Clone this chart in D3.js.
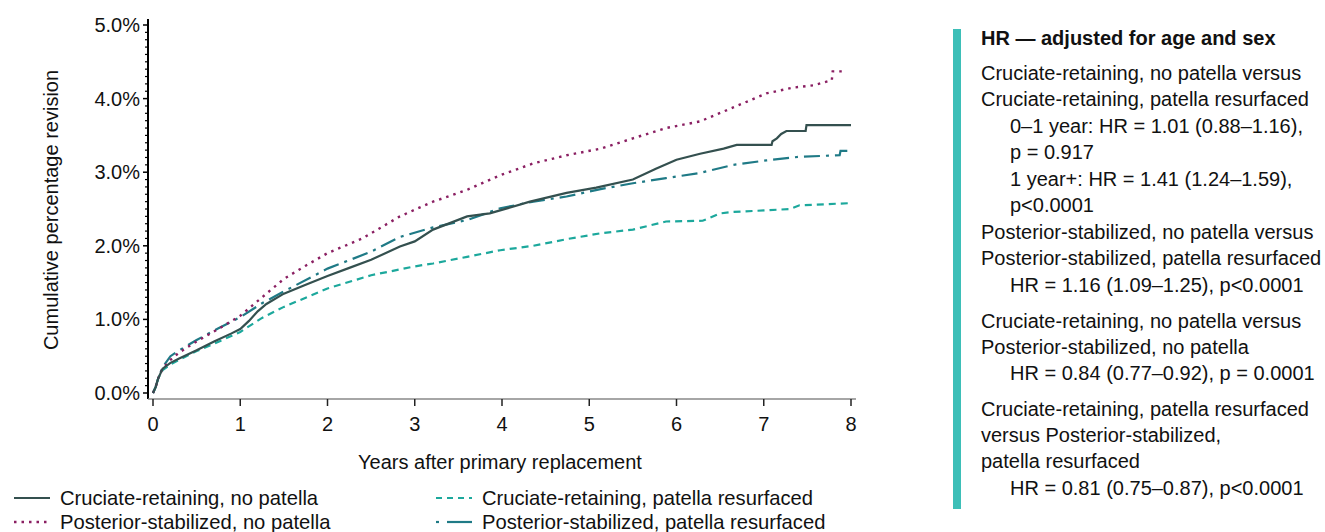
<!DOCTYPE html>
<html><head><meta charset="utf-8">
<script src="https://cdn.jsdelivr.net/npm/d3@7"></script>
<style>
body{margin:0;background:#fff;}
svg{font-family:"Liberation Sans",Arial,sans-serif;}
</style></head>
<body><svg id="c" width="1325" height="532"></svg>
<script>
const seriesNames = ["Cruciate-retaining, no patella","Cruciate-retaining, patella resurfaced","Posterior-stabilized, no patella","Posterior-stabilized, patella resurfaced"];
const crNoPatT = [0,0.03,0.06,0.11,0.2,0.3,0.5,0.7,0.9,1.0,1.1,1.2,1.3,1.5,1.75,2.0,2.25,2.5,2.83,3.0,3.21,3.6,3.86,4.32,4.74,5.08,5.5,5.77,6.0,6.27,6.54,6.69,7.09,7.1,7.15,7.2,7.26,7.48,7.49,8.0];
const crNoPatV = [0,0.08,0.2,0.33,0.41,0.47,0.58,0.70,0.81,0.87,0.98,1.11,1.21,1.35,1.47,1.59,1.70,1.81,1.99,2.06,2.22,2.40,2.44,2.60,2.72,2.79,2.90,3.05,3.17,3.25,3.32,3.37,3.37,3.42,3.46,3.52,3.56,3.56,3.64,3.64];
const crResT = [0,0.03,0.06,0.11,0.2,0.3,0.5,0.7,1.0,1.25,1.5,2.0,2.5,3.0,3.21,3.6,3.98,4.36,4.74,5.13,5.5,5.88,6.3,6.5,6.65,7.0,7.3,7.41,8.0];
const crResV = [0,0.08,0.2,0.31,0.39,0.45,0.57,0.67,0.83,1.02,1.17,1.42,1.60,1.72,1.76,1.85,1.94,2.00,2.09,2.17,2.22,2.33,2.34,2.44,2.46,2.48,2.50,2.55,2.58];
const psNoPatT = [0,0.03,0.06,0.11,0.2,0.3,0.5,0.75,1.0,1.25,1.5,1.75,2.0,2.4,2.83,3.21,3.6,3.98,4.36,4.74,5.13,5.5,5.88,6.27,6.65,7.03,7.34,7.57,7.78,7.79,7.94];
const psNoPatV = [0,0.08,0.2,0.33,0.45,0.55,0.70,0.87,1.05,1.30,1.55,1.73,1.90,2.10,2.40,2.60,2.76,2.96,3.12,3.23,3.32,3.46,3.60,3.69,3.88,4.07,4.15,4.18,4.25,4.37,4.37];
const psResT = [0,0.03,0.06,0.11,0.2,0.3,0.5,0.75,1.0,1.25,1.5,2.0,2.5,2.83,3.21,3.6,3.98,4.36,4.74,5.13,5.5,5.88,6.27,6.65,7.03,7.41,7.87,7.88,8.0];
const psResV = [0,0.08,0.2,0.35,0.50,0.58,0.72,0.88,1.03,1.22,1.38,1.69,1.92,2.12,2.25,2.35,2.51,2.60,2.67,2.77,2.85,2.92,2.99,3.10,3.16,3.21,3.23,3.29,3.29];
const xTicks = [0,1,2,3,4,5,6,7,8];
const yTicks = [0,1,2,3,4,5];
const hrLines = [
 {t:"HR — adjusted for age and sex", b:true, ind:0},
 {t:"Cruciate-retaining, no patella versus", ind:0},
 {t:"Cruciate-retaining, patella resurfaced", ind:0},
 {t:"0–1 year: HR = 1.01 (0.88–1.16),", ind:1},
 {t:"p = 0.917", ind:1},
 {t:"1 year+: HR = 1.41 (1.24–1.59),", ind:1},
 {t:"p<0.0001", ind:1},
 {t:"Posterior-stabilized, no patella versus", ind:0},
 {t:"Posterior-stabilized, patella resurfaced", ind:0},
 {t:"HR = 1.16 (1.09–1.25), p<0.0001", ind:1},
 {t:"Cruciate-retaining, no patella versus", ind:0},
 {t:"Posterior-stabilized, no patella", ind:0},
 {t:"HR = 0.84 (0.77–0.92), p = 0.0001", ind:1},
 {t:"Cruciate-retaining, patella resurfaced", ind:0},
 {t:"versus Posterior-stabilized,", ind:0},
 {t:"patella resurfaced", ind:0},
 {t:"HR = 0.81 (0.75–0.87), p<0.0001", ind:1}
];
const hrY = [45,80,106,133,159,186,212,239,265,292,328,354,380,416,442,468,495];

const svg = d3.select("#c");
const x = d3.scaleLinear().domain([0,8]).range([153,851]);
const y = d3.scaleLinear().domain([0,5]).range([393,25]);

const styles = [
 {t:crNoPatT, v:crNoPatV, c:"#34504f", d:null, w:2.2},
 {t:crResT, v:crResV, c:"#1ca89c", d:"7,5", w:2.2},
 {t:psNoPatT, v:psNoPatV, c:"#8a1f62", d:"2.5,5", w:2.4},
 {t:psResT, v:psResV, c:"#1f7a86", d:"16,6,3,6", w:2.2}
];
const line = d3.line().x(d=>x(d[0])).y(d=>y(d[1]));
[1,3,2,0].forEach(i=>{
  const s = styles[i];
  svg.append("path").datum(s.t.map((t,j)=>[t,s.v[j]]))
    .attr("d", line).attr("fill","none").attr("stroke", s.c)
    .attr("stroke-width", s.w).attr("stroke-dasharray", s.d);
});

const FS = 20;
const yAx = svg.append("g").attr("transform","translate(148,0)");
yAx.append("line").attr("x1",0).attr("x2",0).attr("y1",19).attr("y2",399).attr("stroke","#000").attr("stroke-width",2);
const minor = d3.range(0,50).map(i=>i/10).filter(v=>Math.abs(v-Math.round(v))>1e-6);
yAx.selectAll(".mn").data(minor).join("line").attr("x1",-3).attr("x2",0)
  .attr("y1",d=>y(d)).attr("y2",d=>y(d)).attr("stroke","#000").attr("stroke-width",1.2);
yAx.selectAll(".mj").data(yTicks).join("line").attr("x1",-5).attr("x2",0)
  .attr("y1",d=>y(d)).attr("y2",d=>y(d)).attr("stroke","#000").attr("stroke-width",1.5);
yAx.selectAll("text").data(yTicks).join("text").attr("x",-8).attr("y",d=>y(d)).attr("dy","0.35em")
  .attr("text-anchor","end").attr("font-size",FS).attr("fill","#111").text(d=>d3.format(".1f")(d)+"%");

const xAx = svg.append("g").attr("transform","translate(0,399)");
xAx.append("line").attr("x1",148).attr("x2",856).attr("stroke","#888").attr("stroke-width",1.5);
xAx.selectAll(".t").data(xTicks).join("line").attr("x1",d=>x(d)).attr("x2",d=>x(d)).attr("y1",0).attr("y2",7)
  .attr("stroke","#222").attr("stroke-width",1.5);
xAx.selectAll("text").data(xTicks).join("text").attr("x",d=>x(d)).attr("y",32)
  .attr("text-anchor","middle").attr("font-size",FS).attr("fill","#111").text(d=>d);

svg.append("text").attr("x",500).attr("y",469).attr("text-anchor","middle").attr("font-size",FS).attr("fill","#111")
  .text("Years after primary replacement");
svg.append("text").attr("transform","translate(58,210) rotate(-90)").attr("text-anchor","middle")
  .attr("font-size",FS).attr("fill","#111").text("Cumulative percentage revision");

const leg = [
 {i:0, lx:14, ly:498},
 {i:2, lx:14, ly:522},
 {i:1, lx:436, ly:498},
 {i:3, lx:436, ly:522}
];
leg.forEach(L=>{
  const s = styles[L.i];
  const g = svg.append("g");
  if (L.i===3) {
    g.append("line").attr("x1",L.lx).attr("x2",L.lx+3).attr("y1",L.ly).attr("y2",L.ly).attr("stroke",s.c).attr("stroke-width",2.2);
    g.append("line").attr("x1",L.lx+11).attr("x2",L.lx+36).attr("y1",L.ly).attr("y2",L.ly).attr("stroke",s.c).attr("stroke-width",2.2);
  } else {
    g.append("line").attr("x1",L.lx).attr("x2",L.lx+36).attr("y1",L.ly).attr("y2",L.ly)
      .attr("stroke",s.c).attr("stroke-width",s.w).attr("stroke-dasharray", L.i===1?"6,5":(L.i===2?"2.5,5":null));
  }
  g.append("text").attr("x",L.lx+46).attr("y",L.ly).attr("dy","0.35em").attr("font-size",20.2).attr("fill","#111")
    .text(seriesNames[L.i]);
});

svg.append("rect").attr("x",953).attr("y",29).attr("width",8).attr("height",480).attr("fill","#3dbfb8");
svg.selectAll(".hr").data(hrLines).join("text").attr("x",d=>981+d.ind*29).attr("y",(d,i)=>hrY[i])
  .attr("font-size",FS).attr("font-weight",d=>d.b?"bold":"normal").attr("fill","#111").text(d=>d.t);
</script></body></html>
